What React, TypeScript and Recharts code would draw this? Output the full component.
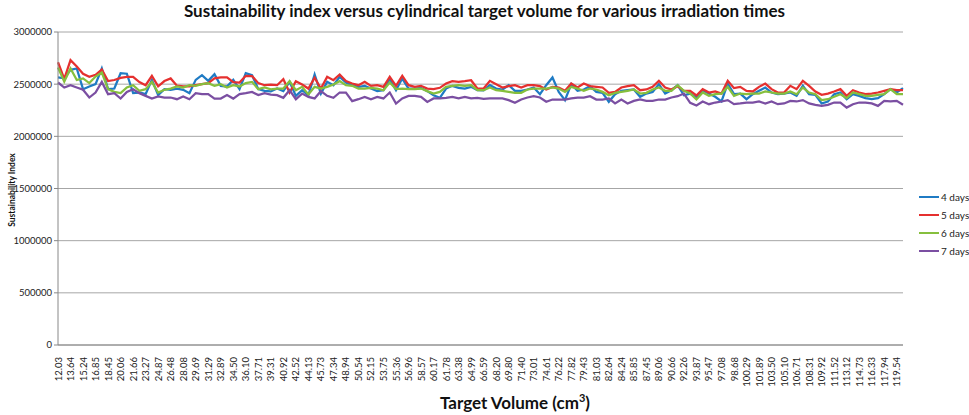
import React from 'react';
import { CartesianGrid, Legend, Line, LineChart, XAxis, YAxis } from 'recharts';

const volumes = [
  '12.03', '12.83', '13.64', '14.44', '15.24', '16.05', '16.85', '17.65', '18.45', '19.26',
  '20.06', '20.86', '21.66', '22.47', '23.27', '24.07', '24.87', '25.68', '26.48', '27.28',
  '28.08', '28.89', '29.69', '30.49', '31.29', '32.09', '32.89', '33.70', '34.50', '35.30',
  '36.10', '36.91', '37.71', '38.51', '39.31', '40.12', '40.92', '41.72', '42.52', '43.33',
  '44.13', '44.93', '45.73', '46.54', '47.34', '48.14', '48.94', '49.74', '50.54', '51.35',
  '52.15', '52.95', '53.75', '54.56', '55.36', '56.16', '56.96', '57.77', '58.57', '59.37',
  '60.17', '60.98', '61.78', '62.58', '63.38', '64.19', '64.99', '65.79', '66.59', '67.40',
  '68.20', '69.00', '69.80', '70.60', '71.40', '72.21', '73.01', '73.81', '74.61', '75.42',
  '76.22', '77.02', '77.82', '78.63', '79.43', '80.23', '81.03', '81.84', '82.64', '83.44',
  '84.24', '85.05', '85.85', '86.65', '87.45', '88.26', '89.06', '89.86', '90.66', '91.46',
  '92.26', '93.07', '93.87', '94.67', '95.47', '96.28', '97.08', '97.88', '98.68', '99.49',
  '100.29', '101.09', '101.89', '102.70', '103.50', '104.30', '105.10', '105.91', '106.71', '107.51',
  '108.31', '109.12', '109.92', '110.72', '111.52', '112.32', '113.12', '113.93', '114.73', '115.53',
  '116.33', '117.14', '117.94', '118.74', '119.54', '120.34',
];

const days4 = [
  2564000, 2556000, 2637000, 2650000, 2452000, 2478000, 2500000, 2650000, 2452000, 2458000,
  2605000, 2600000, 2414000, 2420000, 2404000, 2541000, 2395000, 2452000, 2446000, 2458000,
  2446000, 2414000, 2541000, 2586000, 2532000, 2596000, 2484000, 2478000, 2541000, 2452000,
  2605000, 2586000, 2452000, 2436000, 2430000, 2458000, 2433000, 2522000, 2388000, 2442000,
  2394000, 2593000, 2410000, 2522000, 2490000, 2570000, 2516000, 2490000, 2474000, 2484000,
  2458000, 2433000, 2442000, 2548000, 2442000, 2554000, 2458000, 2458000, 2465000, 2433000,
  2394000, 2369000, 2458000, 2484000, 2465000, 2458000, 2474000, 2442000, 2440000, 2490000,
  2458000, 2449000, 2490000, 2436000, 2436000, 2449000, 2468000, 2404000, 2490000, 2564000,
  2426000, 2347000, 2500000, 2436000, 2449000, 2481000, 2426000, 2417000, 2331000, 2404000,
  2436000, 2442000, 2449000, 2379000, 2410000, 2426000, 2500000, 2410000, 2442000, 2490000,
  2394000, 2410000, 2370000, 2442000, 2410000, 2379000, 2334000, 2506000, 2404000, 2410000,
  2356000, 2404000, 2436000, 2468000, 2420000, 2404000, 2410000, 2420000, 2388000, 2484000,
  2404000, 2398000, 2315000, 2334000, 2404000, 2420000, 2356000, 2404000, 2388000, 2366000,
  2356000, 2366000, 2404000, 2452000, 2420000, 2462000,
];

const days5 = [
  2710000, 2550000, 2730000, 2670000, 2600000, 2570000, 2590000, 2640000, 2530000, 2540000,
  2560000, 2570000, 2570000, 2520000, 2490000, 2580000, 2480000, 2530000, 2555000, 2485000,
  2478000, 2478000, 2490000, 2500000, 2510000, 2555000, 2564000, 2565000, 2520000, 2515000,
  2580000, 2578000, 2510000, 2490000, 2495000, 2490000, 2548000, 2420000, 2529000, 2497000,
  2458000, 2561000, 2458000, 2570000, 2538000, 2593000, 2529000, 2506000, 2490000, 2522000,
  2484000, 2490000, 2474000, 2570000, 2484000, 2580000, 2490000, 2474000, 2484000, 2458000,
  2452000, 2465000, 2506000, 2529000, 2522000, 2529000, 2538000, 2458000, 2458000, 2532000,
  2500000, 2468000, 2481000, 2490000, 2468000, 2490000, 2490000, 2481000, 2449000, 2474000,
  2468000, 2436000, 2506000, 2468000, 2506000, 2481000, 2474000, 2468000, 2417000, 2426000,
  2468000, 2481000, 2490000, 2442000, 2449000, 2474000, 2532000, 2468000, 2449000, 2481000,
  2436000, 2436000, 2392000, 2452000, 2420000, 2430000, 2410000, 2532000, 2462000, 2474000,
  2436000, 2430000, 2474000, 2506000, 2452000, 2420000, 2420000, 2484000, 2452000, 2532000,
  2484000, 2430000, 2398000, 2410000, 2430000, 2452000, 2388000, 2442000, 2420000, 2404000,
  2410000, 2420000, 2436000, 2452000, 2442000, 2442000,
];

const days6 = [
  2660000, 2525000, 2650000, 2540000, 2555000, 2510000, 2573000, 2612000, 2452000, 2426000,
  2414000, 2468000, 2490000, 2436000, 2452000, 2522000, 2420000, 2446000, 2458000, 2478000,
  2468000, 2490000, 2484000, 2500000, 2510000, 2484000, 2500000, 2468000, 2490000, 2478000,
  2510000, 2522000, 2452000, 2468000, 2450000, 2458000, 2458000, 2529000, 2442000, 2474000,
  2401000, 2474000, 2458000, 2474000, 2497000, 2529000, 2490000, 2484000, 2458000, 2458000,
  2465000, 2458000, 2442000, 2516000, 2452000, 2458000, 2452000, 2452000, 2458000, 2433000,
  2410000, 2426000, 2474000, 2484000, 2490000, 2484000, 2490000, 2442000, 2442000, 2468000,
  2442000, 2436000, 2426000, 2417000, 2417000, 2449000, 2458000, 2458000, 2458000, 2468000,
  2458000, 2426000, 2474000, 2458000, 2436000, 2458000, 2449000, 2426000, 2394000, 2417000,
  2426000, 2436000, 2449000, 2410000, 2417000, 2449000, 2468000, 2436000, 2436000, 2490000,
  2436000, 2410000, 2353000, 2420000, 2388000, 2404000, 2410000, 2474000, 2388000, 2410000,
  2404000, 2410000, 2410000, 2430000, 2420000, 2410000, 2410000, 2430000, 2404000, 2468000,
  2420000, 2404000, 2347000, 2356000, 2379000, 2404000, 2366000, 2420000, 2404000, 2388000,
  2388000, 2398000, 2404000, 2452000, 2404000, 2404000,
];

const days7 = [
  2516000, 2468000, 2490000, 2468000, 2446000, 2372000, 2420000, 2522000, 2404000, 2414000,
  2362000, 2426000, 2452000, 2414000, 2388000, 2362000, 2382000, 2372000, 2372000, 2356000,
  2382000, 2356000, 2414000, 2404000, 2404000, 2362000, 2362000, 2395000, 2362000, 2404000,
  2414000, 2426000, 2395000, 2414000, 2400000, 2395000, 2369000, 2442000, 2356000, 2410000,
  2378000, 2363000, 2433000, 2388000, 2369000, 2420000, 2420000, 2337000, 2356000, 2378000,
  2356000, 2378000, 2363000, 2420000, 2314000, 2363000, 2388000, 2388000, 2378000, 2330000,
  2363000, 2363000, 2369000, 2378000, 2363000, 2378000, 2363000, 2369000, 2360000, 2363000,
  2363000, 2363000, 2347000, 2321000, 2353000, 2372000, 2385000, 2372000, 2331000, 2353000,
  2353000, 2353000, 2363000, 2372000, 2372000, 2385000, 2353000, 2353000, 2363000, 2315000,
  2353000, 2315000, 2340000, 2353000, 2340000, 2340000, 2353000, 2353000, 2372000, 2385000,
  2410000, 2321000, 2296000, 2334000, 2308000, 2324000, 2334000, 2347000, 2308000, 2315000,
  2324000, 2324000, 2334000, 2315000, 2334000, 2308000, 2315000, 2340000, 2334000, 2347000,
  2315000, 2302000, 2292000, 2302000, 2324000, 2324000, 2276000, 2308000, 2324000, 2324000,
  2315000, 2292000, 2340000, 2334000, 2340000, 2302000,
];

const yTicks = [0, 500000, 1000000, 1500000, 2000000, 2500000, 3000000];

const series = [
  { key: 'd4', name: '4 days', color: '#1f7bc4' },
  { key: 'd5', name: '5 days', color: '#e5302f' },
  { key: 'd6', name: '6 days', color: '#86bf3d' },
  { key: 'd7', name: '7 days', color: '#7b4fa2' },
];

const data = volumes.map((vol, i) => ({
  vol,
  d4: days4[i],
  d5: days5[i],
  d6: days6[i],
  d7: days7[i],
}));

const FONT = 'Lato, "Liberation Sans", sans-serif';

function VolumeTick({ x, y, payload }: any) {
  return (
    <text
      x={x}
      y={y + 4}
      transform={`rotate(-90 ${x} ${y + 4})`}
      textAnchor="end"
      dominantBaseline="central"
      fontSize={9.5}
      fontFamily={FONT}
      fill="#222"
    >
      {payload.value}
    </text>
  );
}

function LegendContent({ payload }: any) {
  return (
    <div style={{ fontFamily: FONT, fontSize: 10, color: '#222', whiteSpace: 'nowrap' }}>
      {(payload || []).map((p: any) => (
        <div key={p.value} style={{ display: 'flex', alignItems: 'center', height: 18 }}>
          <span style={{ width: 20, height: 2.5, background: p.color, marginLeft: 16, flex: 'none' }} />
          <span style={{ marginLeft: 2 }}>{p.value}</span>
        </div>
      ))}
    </div>
  );
}

export default function App() {
  return (
    <div style={{ position: 'relative', width: 969, height: 415, background: '#fff', fontFamily: FONT }}>
      <style>{'body{margin:0}'}</style>
      <div
        style={{
          position: 'absolute',
          top: 0,
          left: 0,
          width: 969,
          textAlign: 'center',
          fontWeight: 700,
          fontSize: 17,
          color: '#111',
        }}
      >
        Sustainability index versus cylindrical target volume for various irradiation times
      </div>
      <div
        style={{
          position: 'absolute',
          left: 12,
          top: 190,
          transform: 'translate(-50%, -50%) rotate(-90deg)',
          whiteSpace: 'nowrap',
          fontWeight: 700,
          fontSize: 8.5,
          color: '#111',
        }}
      >
        Sustainability Index
      </div>
      <div
        style={{
          position: 'absolute',
          left: 515,
          top: 402,
          transform: 'translate(-50%, -50%)',
          whiteSpace: 'nowrap',
          fontWeight: 700,
          fontSize: 17,
          color: '#111',
        }}
      >
        Target Volume (cm<sup style={{ fontSize: 11 }}>3</sup>)
      </div>
      <LineChart
        width={969}
        height={415}
        data={data}
        margin={{ top: 32, right: 0, left: 8, bottom: 0 }}
        style={{ position: 'absolute', top: 0, left: 0 }}
      >
        <CartesianGrid stroke="#a6a6a6" vertical={false} />
        <XAxis
          dataKey="vol"
          interval={1}
          tick={<VolumeTick />}
          tickLine={false}
          axisLine={{ stroke: '#888' }}
          height={70}
        />
        <YAxis
          domain={[0, 3000000]}
          ticks={yTicks}
          tickFormatter={(v: number) => String(v)}
          tick={{ fill: '#222', fontSize: 9.5, fontFamily: FONT }}
          axisLine={{ stroke: '#888' }}
          tickLine={{ stroke: '#888' }}
          tickSize={4}
          width={50}
        />
        <Legend
          layout="vertical"
          align="right"
          verticalAlign="middle"
          content={<LegendContent />}
          wrapperStyle={{ top: 188, right: 0, width: 66 }}
        />
        {series.map((s) => (
          <Line
            key={s.key}
            type="linear"
            dataKey={s.key}
            name={s.name}
            stroke={s.color}
            strokeWidth={2.25}
            dot={false}
            isAnimationActive={false}
          />
        ))}
      </LineChart>
    </div>
  );
}
